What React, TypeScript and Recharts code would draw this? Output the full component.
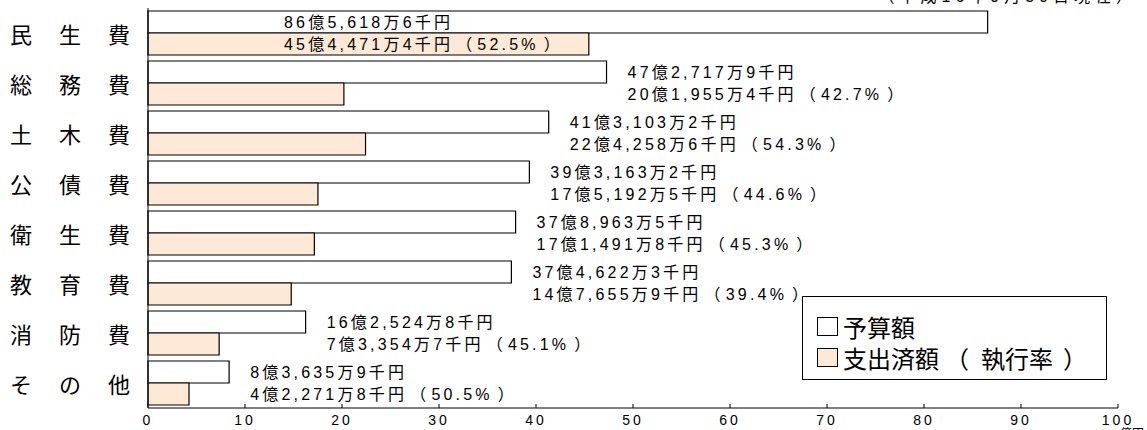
import { BarChart, Bar, XAxis, YAxis, LabelList, Legend } from 'recharts';

const categories = ['民生費', '総務費', '土木費', '公債費', '衛生費', '教育費', '消防費', 'その他'];
// 億円
const budget = [86.56186, 47.27179, 41.31032, 39.31632, 37.89635, 37.46223, 16.25248, 8.36359];
const spent = [45.44714, 20.19554, 22.42586, 17.51925, 17.14918, 14.76559, 7.33547, 4.22718];
const rate = [52.5, 42.7, 54.3, 44.6, 45.3, 39.4, 45.1, 50.5];
const budgetText = [
  '86億5,618万6千円',
  '47億2,717万9千円',
  '41億3,103万2千円',
  '39億3,163万2千円',
  '37億8,963万5千円',
  '37億4,622万3千円',
  '16億2,524万8千円',
  '8億3,635万9千円',
];
const spentText = [
  '45億4,471万4千円',
  '20億1,955万4千円',
  '22億4,258万6千円',
  '17億5,192万5千円',
  '17億1,491万8千円',
  '14億7,655万9千円',
  '7億3,354万7千円',
  '4億2,271万8千円',
];
const xTicks = [0, 10, 20, 30, 40, 50, 60, 70, 80, 90, 100];

const data = categories.map((name, i) => ({ name, budget: budget[i], spent: spent[i] }));

const FONT = '"Liberation Sans", Arial, "Noto Sans CJK JP", sans-serif';
const JP = '"Noto Sans CJK JP", sans-serif';
const SPENT_FILL = '#fde9d5';

// label start: right of the budget bar, or inside it when the bar is too long
function labelX(left: number, budgetWidth: number, value: number) {
  if (value > 80) return left + 136;
  return left + budgetWidth + 21;
}

function BudgetLabel(props: any) {
  const { x, y, width, height, index } = props;
  return (
    <text x={labelX(x, width, budget[index])} y={y + height / 2} dominantBaseline="central"
      fontSize={16} letterSpacing={3.2} fontFamily={FONT} fill="#000">
      {budgetText[index]}
    </text>
  );
}

function SpentLabel(props: any) {
  const { x, y, width, height, index } = props;
  const bw = (width * budget[index]) / spent[index];
  return (
    <text x={labelX(x, bw, budget[index])} y={y + height / 2} dominantBaseline="central"
      fontSize={16} letterSpacing={3.2} fontFamily={FONT} fill="#000">
      <tspan>{spentText[index]}</tspan>
      <tspan dx={3}>（</tspan>
      <tspan dx={2}>{rate[index].toFixed(1) + '%'}</tspan>
      <tspan dx={5}>）</tspan>
    </text>
  );
}

function CategoryTick(props: any) {
  const { y, payload } = props;
  return (
    <text x={10} y={y} dominantBaseline="central" fontSize={22} letterSpacing={27}
      fontFamily={JP} fill="#000">
      {payload.value}
    </text>
  );
}

function ValueTick(props: any) {
  const { x, y, payload } = props;
  return (
    <g>
      <line x1={x} x2={x} y1={y - 4} y2={y} stroke="#000" />
      <text x={x} y={y + 17} textAnchor="middle" fontSize={14} letterSpacing={3}
        fontFamily={FONT} fill="#000">
        {payload.value}
      </text>
    </g>
  );
}

function LegendBox() {
  return (
    <div style={{ width: 305, height: 84, border: '1.5px solid #000', background: '#fff', boxSizing: 'border-box', padding: '14px 0 0 14px', fontFamily: JP, fontSize: 24, color: '#000', lineHeight: 1 }}>
      <div style={{ display: 'flex', alignItems: 'center', height: 31 }}>
        <span style={{ display: 'inline-block', width: 19, height: 17, border: '1px solid #000', background: '#fff', marginRight: 5 }} />
        予算額
      </div>
      <div style={{ display: 'flex', alignItems: 'center', height: 31, whiteSpace: 'nowrap' }}>
        <span style={{ display: 'inline-block', width: 19, height: 17, border: '1px solid #000', background: SPENT_FILL, marginRight: 5 }} />
        支出済額<span style={{ margin: '0 12px 0 6px' }}>（</span>執行率<span style={{ margin: '0 0 0 10px' }}>）</span>
      </div>
    </div>
  );
}

export default function App() {
  return (
    <div style={{ position: 'absolute', left: 0, top: 0, width: 1147, height: 430 }}>
      <BarChart
        width={1147}
        height={430}
        data={data}
        layout="vertical"
        margin={{ top: 8, right: 29, bottom: 0, left: 0 }}
        barCategoryGap={3}
        barGap={0}
      >
        <XAxis type="number" domain={[0, 100]} ticks={xTicks} height={22} tickSize={0} tickMargin={0}
          axisLine={{ stroke: '#000' }} tickLine={false} tick={<ValueTick />} interval={0} />
        <XAxis xAxisId="top" type="number" domain={[0, 100]} orientation="top" height={0}
          tick={false} tickLine={false} axisLine={{ stroke: '#000' }} />
        <YAxis type="category" dataKey="name" width={148} axisLine={{ stroke: '#000' }}
          tickLine={false} tick={<CategoryTick />} interval={0} />
        <YAxis yAxisId="right" type="category" dataKey="name" orientation="right" width={0}
          tick={false} tickLine={false} axisLine={{ stroke: '#000' }} />
        <Legend layout="vertical" align="center" verticalAlign="middle"
          wrapperStyle={{ left: 802, top: 296, width: 305, height: 84 }} content={() => <LegendBox />} />
        <Bar dataKey="budget" fill="#fff" stroke="#000" strokeWidth={1.2} isAnimationActive={false}>
          <LabelList dataKey="budget" content={<BudgetLabel />} />
        </Bar>
        <Bar dataKey="spent" fill={SPENT_FILL} stroke="#000" strokeWidth={1.2} isAnimationActive={false}>
          <LabelList dataKey="spent" content={<SpentLabel />} />
        </Bar>
        <text x={1137} y={2} textAnchor="end" fontSize={16} letterSpacing={5} fontFamily={FONT}>
          （平成16年9月30日現在）
        </text>
        <text x={1120} y={438} textAnchor="start" fontSize={12} fontFamily={JP}>
          億円
        </text>
      </BarChart>
    </div>
  );
}
